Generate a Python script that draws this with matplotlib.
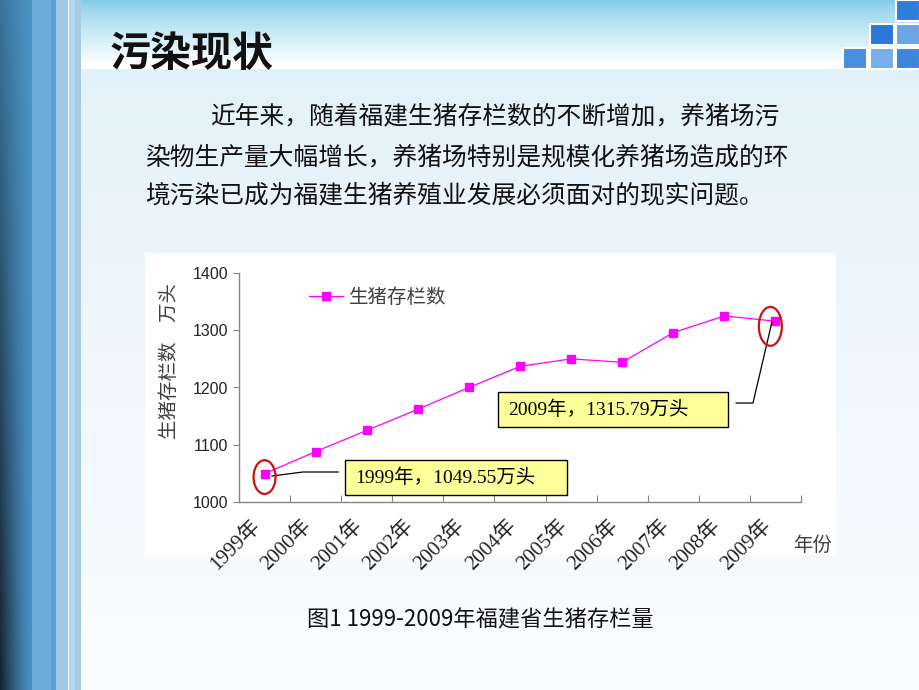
import numpy as np
import matplotlib.pyplot as plt
import matplotlib.colors as mcolors
from matplotlib.patches import Rectangle, Ellipse

# data
years = ['1999年', '2000年', '2001年', '2002年', '2003年', '2004年',
         '2005年', '2006年', '2007年', '2008年', '2009年']
stock = [1049.55, 1088, 1125, 1162, 1200, 1237, 1250, 1244, 1296, 1325, 1315.79]
yticks = [1000, 1100, 1200, 1300, 1400]
series_name = '生猪存栏数'
note_first = '1999年，1049.55万头'
note_last = '2009年，1315.79万头'

CJK = 'Noto Sans CJK SC'
SERIF = ['Liberation Serif', CJK]
SANS = ['Liberation Sans', CJK]

W, H = 920, 690
fig = plt.figure(figsize=(9.2, 6.9), dpi=100)

# ---- slide background (pixel coords) ----
bg = fig.add_axes([0, 0, 1, 1])
bg.set_xlim(0, W)
bg.set_ylim(H, 0)
bg.axis('off')

yy = np.arange(H)[:, None, None].astype(float)
head_top = np.array(mcolors.to_rgb('#80cce8'))
body_top = np.array(mcolors.to_rgb('#e2f1f9'))
body_bot = np.array(mcolors.to_rgb('#fcfdff'))
t1 = np.clip(yy / 64.0, 0, 1) ** 0.8
t2 = np.clip((yy - 69) / (H - 69), 0, 1) ** 0.9
head = head_top * (1 - t1) + t1
body = body_top * (1 - t2) + body_bot * t2
img = np.where(yy < 69, head, body) * np.ones((1, W, 1))
bg.imshow(img, extent=(0, W, H, 0), aspect='auto', zorder=0)

# dark left strip
xs = np.arange(32)[None, :, None] / 32.0
ys = np.arange(H)[:, None, None] / H
f = (1 - xs) ** 1.3 * (0.3 + 0.7 * ys)
c_blue = np.array(mcolors.to_rgb('#4a93c6'))
c_dark = np.array(mcolors.to_rgb('#152430'))
strip = c_blue * (1 - f) + c_dark * f
bg.imshow(strip, extent=(0, 32, H, 0), aspect='auto', zorder=1)
for x0, x1, col in [(32, 51, '#6dabd8'), (51, 56, '#5b9fd1'), (56, 68, '#9dc9e4'),
                    (68, 69.5, '#f0f8fc'), (69.5, 75, '#b6d7ec'), (75, 81, '#a5cbe5')]:
    bg.add_patch(Rectangle((x0, 0), x1 - x0, H, facecolor=col, edgecolor='none', zorder=1))

# top-right squares
for sx, sy, col in [(896, 0, '#2e7fdc'), (870, 24, '#2a78d8'), (896, 24, '#6aa6e4'),
                    (843, 48, '#4a8ee0'), (870, 48, '#7aaee8'), (896, 48, '#3e86dc')]:
    bg.add_patch(Rectangle((sx, sy), 24, 21, facecolor=col, edgecolor='white',
                           linewidth=1.5, zorder=2))

# chart panel
bg.add_patch(Rectangle((145, 253), 691, 302, facecolor='white', edgecolor='none', zorder=1))

bg.text(110, 54, '污染现状', fontsize=29.5, fontweight='bold', family=CJK,
        ha='left', va='center', color='#111111', zorder=3)
para = ['近年来，随着福建生猪存栏数的不断增加，养猪场污',
        '染物生产量大幅增长，养猪场特别是规模化养猪场造成的环',
        '境污染已成为福建生猪养殖业发展必须面对的现实问题。']
for line, x0, y0 in zip(para, [210, 145, 145], [116, 157, 196]):
    bg.text(x0, y0, line, fontsize=17.8, family=CJK, ha='left', va='center',
            color='#111111', zorder=3)
bg.text(480, 620, '图1 1999-2009年福建省生猪存栏量', fontsize=16, family=CJK,
        ha='center', va='center', color='#111111', zorder=3)

# ---- chart ----
ax = fig.add_axes([239 / W, 1 - 502 / H, 562 / W, 229 / H])
ax.patch.set_alpha(0)
x = np.arange(len(years)) + 0.5
ax.plot(x, stock, color='#ff00ff', linewidth=0.9, marker='s', markersize=6,
        markerfacecolor='#ff00ff', markeredgecolor='#ff00ff', label=series_name,
        clip_on=False, zorder=3)
ax.set_xlim(0, len(years))
ax.set_ylim(1000, 1400)
for s in ['top', 'right']:
    ax.spines[s].set_visible(False)
for s in ['left', 'bottom']:
    ax.spines[s].set_color('#868686')
    ax.spines[s].set_linewidth(1.0)

ax.set_yticks(yticks)
ax.set_yticklabels([str(v) for v in yticks], family=SANS, fontsize=11.5, color='#222222')
ax.tick_params(axis='y', direction='out', length=4, color='#868686', pad=4)

ax.set_xticks(np.arange(len(years) + 1))
ax.set_xticklabels([])
ax.tick_params(axis='x', which='major', direction='in', length=5, color='#868686')
ax.set_xticks(x, minor=True)
ax.set_xticklabels(years, minor=True, rotation=45, ha='right', va='top',
                   family=SERIF, fontsize=15, color='#222222')
ax.tick_params(axis='x', which='minor', length=0, pad=10)

leg = ax.legend(loc='center left', bbox_to_anchor=(0.1246, 0.891), frameon=False,
                borderaxespad=0, borderpad=0, handlelength=1.75, handletextpad=0.3,
                prop={'family': SERIF, 'size': 14})
for t in leg.get_texts():
    t.set_color('#404040')

fig.text(170 / W, 1 - 361 / H, '生猪存栏数　万头', rotation=90, family=CJK,
         fontsize=14, ha='center', va='center', color='#404040')
fig.text(813 / W, 1 - 545 / H, '年份', family=CJK, fontsize=14,
         ha='center', va='center', color='#404040')

# annotation boxes
ax.add_patch(Rectangle((2.075, 1012.2), 4.345, 61.2, facecolor='#ffff99',
                       edgecolor='black', linewidth=1, zorder=4, clip_on=False))
ax.text(2.27, 1042.8, note_first, family=SERIF, fontsize=14, ha='left', va='center',
        color='black', zorder=5)
ax.plot([1.94, 1.25, 0.646], [1052.4, 1052.4, 1045.4], color='black', linewidth=0.9,
        zorder=4, clip_on=False)
ax.add_patch(Ellipse((x[0], stock[0] - 6), 0.43, 59, facecolor='none',
                     edgecolor='#cc1111', linewidth=1.6, zorder=5, clip_on=False))

ax.add_patch(Rectangle((5.07, 1131), 4.5, 61.1, facecolor='#ffff99',
                       edgecolor='black', linewidth=1, zorder=4, clip_on=False))
ax.text(5.265, 1161.6, note_last, family=SERIF, fontsize=14, ha='left', va='center',
        color='black', zorder=5)
ax.plot([9.73, 10.06, 10.43], [1172.9, 1172.9, 1314], color='black', linewidth=0.9,
        zorder=4, clip_on=False)
ax.add_patch(Ellipse((x[-1] - 0.1, stock[-1] - 9), 0.45, 68, facecolor='none',
                     edgecolor='#cc1111', linewidth=1.6, zorder=5, clip_on=False))

fig.savefig('out.png', dpi=100)
